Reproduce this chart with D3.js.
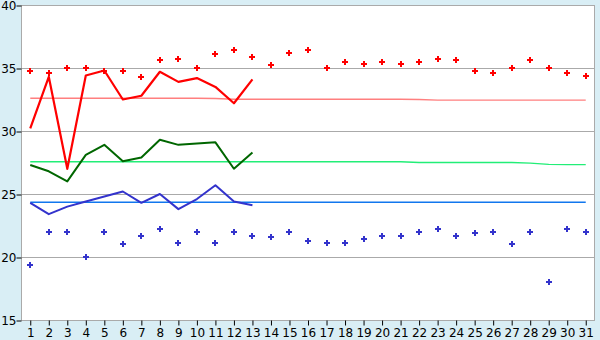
<!DOCTYPE html>
<html><head><meta charset="utf-8">
<script src="https://cdn.jsdelivr.net/npm/d3@7"></script>
<style>
html,body{margin:0;padding:0;background:#d9eef5;}
svg{display:block;}
text{font-family:"DejaVu Sans",Verdana,sans-serif;font-size:12px;fill:#000;}
</style></head><body>
<svg id="c" width="600" height="340"></svg>
<script>
const days = d3.range(1, 32);
const yTicks = [15, 20, 25, 30, 35, 40];
const maxDots = [34.8,34.6,35.0,35.0,34.8,34.8,34.3,35.6,35.7,35.0,36.1,36.4,35.9,35.2,36.2,36.4,35.0,35.5,35.3,35.5,35.3,35.5,35.7,35.6,34.8,34.6,35.0,35.6,35.0,34.6,34.4];
const minDots = [19.4,22.0,22.0,20.0,22.0,21.0,21.7,22.2,21.1,22.0,21.1,22.0,21.7,21.6,22.0,21.3,21.1,21.1,21.4,21.7,21.7,22.0,22.2,21.7,21.9,22.0,21.0,22.0,18.0,22.2,22.0];
const maxLine = [30.2,34.3,27.0,34.4,34.8,32.5,32.8,34.7,33.9,34.2,33.5,32.2,34.1];
const meanLine = [27.3,26.8,26.0,28.1,28.9,27.6,27.9,29.3,28.9,29.0,29.1,27.0,28.3];
const minLine = [24.3,23.4,24.0,24.4,24.8,25.2,24.3,25.0,23.8,24.6,25.7,24.4,24.1];
const maxAvg = [32.6,32.6,32.6,32.6,32.6,32.6,32.6,32.6,32.6,32.6,32.58,32.52,32.52,32.52,32.52,32.52,32.52,32.52,32.52,32.52,32.52,32.5,32.45,32.45,32.45,32.45,32.45,32.45,32.45,32.45,32.45];
const meanAvg = [27.56,27.56,27.56,27.56,27.56,27.56,27.56,27.56,27.56,27.56,27.56,27.56,27.56,27.56,27.56,27.56,27.56,27.56,27.56,27.56,27.56,27.5,27.5,27.5,27.5,27.5,27.5,27.45,27.35,27.33,27.33];
const minAvg = days.map(() => 24.35);

const svg = d3.select("#c");
const L = 21, R = 595, T = 5, B = 320;
const x = d3.scaleBand().domain(days).range([L, R]).padding(0);
const cx = d => x(d) + x.bandwidth() / 2;
const y = d3.scaleLinear().domain([15, 40]).range([B, T]);

svg.append("rect").attr("x", L).attr("y", T).attr("width", R - L).attr("height", B - T).attr("fill", "#fff");

// grid
svg.append("g").selectAll("line").data(yTicks).join("line")
  .attr("x1", L).attr("x2", R)
  .attr("y1", d => Math.round(y(d)) + 0.5).attr("y2", d => Math.round(y(d)) + 0.5)
  .attr("stroke", "#aaaaaa").attr("stroke-width", 1);

// border
svg.append("rect").attr("x", L + 0.5).attr("y", T + 0.5).attr("width", R - L - 1).attr("height", B - T)
  .attr("fill", "none").attr("stroke", "#aaaaaa");

// y axis
const ya = svg.append("g").attr("transform", `translate(${L + 0.5},0.5)`)
  .call(d3.axisLeft(y).tickValues(yTicks).tickSize(5).tickPadding(2).tickFormat(d3.format("d")));
ya.select(".domain").remove();
ya.selectAll("line").attr("stroke", "#000");
ya.selectAll("text").style("font-size", "12px").attr("dy", "0.36em").attr("x", -5);

// x axis
const xa = svg.append("g").attr("transform", `translate(0.5,${B + 0.5})`)
  .call(d3.axisBottom(x).tickSize(5).tickPadding(3));
xa.select(".domain").remove();
xa.selectAll("line").attr("stroke", "#000");
xa.selectAll("text").style("font-size", "12px");

const lineGen = d3.line().x((d, i) => cx(days[i])).y(d => y(d));

function drawLine(data, color, w) {
  svg.append("path").datum(data).attr("d", lineGen).attr("fill", "none")
    .attr("stroke", color).attr("stroke-width", w)
    .attr("stroke-linejoin", "round");
}

drawLine(maxAvg, "#ff7f7f", 1.4);
drawLine(meanAvg, "#22ee77", 1.4);
drawLine(minAvg, "#1177ee", 1.6);
drawLine(maxLine, "#ff0000", 2.2);
drawLine(meanLine, "#006600", 2);
drawLine(minLine, "#3333cc", 2);

const plus = "M-1,-3h2v2h2v2h-2v2h-2v-2h-2v-2h2z";
function drawDots(data, color) {
  svg.append("g").selectAll("path").data(data).join("path")
    .attr("d", plus)
    .attr("shape-rendering", "crispEdges")
    .attr("transform", (d, i) => `translate(${Math.round(cx(days[i]))},${Math.round(y(d))})`)
    .attr("fill", color);
}
drawDots(maxDots, "#ff0000");
drawDots(minDots, "#3333cc");
</script>
</body></html>
